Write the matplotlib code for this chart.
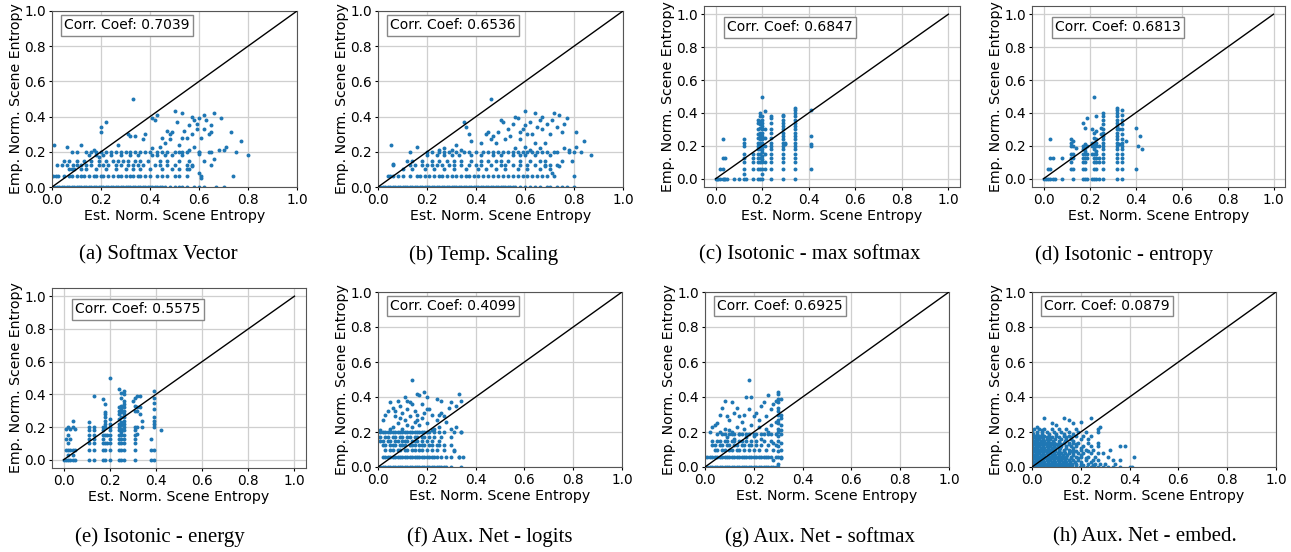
import matplotlib
matplotlib.use("Agg")
import matplotlib.pyplot as plt

# ---------------- data ----------------
CAPTIONS = ["(a) Softmax Vector", "(b) Temp. Scaling", "(c) Isotonic - max softmax",
            "(d) Isotonic - entropy", "(e) Isotonic - energy", "(f) Aux. Net - logits",
            "(g) Aux. Net - softmax", "(h) Aux. Net - embed."]
CORR = [0.7039, 0.6536, 0.6847, 0.6813, 0.5575, 0.4099, 0.6925, 0.0879]
TICKS = [0.0, 0.2, 0.4, 0.6, 0.8, 1.0]

# (a) rows: y level -> x values ; extras as (x, y)
A_LEVELS = [0.0, 0.06, 0.1, 0.125, 0.15, 0.18, 0.2]
A_ROWS = [
    [0.0, 0.01, 0.02, 0.03, 0.04, 0.05, 0.06, 0.07, 0.08, 0.09, 0.10, 0.11, 0.12, 0.13, 0.14, 0.15,
     0.16, 0.17, 0.18, 0.19, 0.20, 0.21, 0.22, 0.23, 0.24, 0.25, 0.26, 0.27, 0.28, 0.29, 0.30, 0.31,
     0.32, 0.33, 0.34, 0.35, 0.36, 0.37, 0.38, 0.39, 0.40, 0.41, 0.42, 0.43, 0.44, 0.45, 0.46, 0.48,
     0.50, 0.52, 0.53, 0.55, 0.58, 0.60, 0.62, 0.67, 0.70],
    [0.005, 0.015, 0.025, 0.05, 0.07, 0.08, 0.10, 0.12, 0.13, 0.15, 0.17, 0.18, 0.20, 0.21, 0.23,
     0.25, 0.27, 0.28, 0.30, 0.32, 0.33, 0.35, 0.36, 0.38, 0.40, 0.43, 0.45, 0.47, 0.50, 0.52, 0.55,
     0.61, 0.74],
    [0.07, 0.08, 0.09, 0.12, 0.14, 0.18, 0.22, 0.26, 0.30, 0.33, 0.36, 0.40, 0.45, 0.49, 0.52, 0.56],
    [0.02, 0.04, 0.06, 0.085, 0.10, 0.12, 0.14, 0.16, 0.19, 0.21, 0.23, 0.26, 0.28, 0.31, 0.33, 0.35,
     0.37, 0.42, 0.44, 0.47, 0.50, 0.55, 0.57, 0.65],
    [0.05, 0.07, 0.10, 0.13, 0.16, 0.19, 0.22, 0.25, 0.27, 0.29, 0.31, 0.34, 0.36, 0.39, 0.44, 0.47,
     0.52, 0.56],
    [0.15, 0.18, 0.21, 0.24, 0.28, 0.32, 0.35, 0.41, 0.43, 0.46, 0.49, 0.53],
    [0.08, 0.10, 0.14, 0.16, 0.18, 0.20, 0.22, 0.24, 0.26, 0.28, 0.30, 0.32, 0.34, 0.36, 0.38, 0.40,
     0.43, 0.45, 0.47, 0.50, 0.53, 0.60, 0.65],
]
A_EXTRA_X = [0.01, 0.06, 0.12, 0.17, 0.19, 0.20, 0.20, 0.22, 0.27, 0.31, 0.32, 0.33, 0.34, 0.37, 0.38,
             0.41, 0.42, 0.43, 0.41, 0.44, 0.45, 0.46, 0.47, 0.48, 0.49, 0.48, 0.50, 0.51, 0.52, 0.53,
             0.53, 0.54, 0.55, 0.56, 0.57, 0.57, 0.58, 0.59, 0.59, 0.60, 0.61, 0.62, 0.62, 0.63, 0.64,
             0.65, 0.66, 0.65, 0.69, 0.68, 0.71, 0.73, 0.75, 0.77, 0.80, 0.58, 0.60, 0.60, 0.64, 0.66,
             0.70, 0.62, 0.56, 0.55, 0.57, 0.61, 0.55, 0.60, 0.52]
A_EXTRA_Y = [0.24, 0.23, 0.24, 0.21, 0.17, 0.34, 0.31, 0.37, 0.24, 0.30, 0.29, 0.50, 0.29, 0.27, 0.30,
             0.39, 0.38, 0.41, 0.22, 0.23, 0.28, 0.25, 0.32, 0.30, 0.31, 0.27, 0.43, 0.37, 0.24, 0.42,
             0.28, 0.32, 0.28, 0.35, 0.30, 0.40, 0.38, 0.33, 0.36, 0.39, 0.28, 0.41, 0.33, 0.38, 0.30,
             0.35, 0.42, 0.31, 0.39, 0.21, 0.23, 0.31, 0.20, 0.26, 0.18, 0.23, 0.19, 0.20, 0.20, 0.16,
             0.21, 0.15, 0.21, 0.20, 0.12, 0.05, 0.10, 0.08, 0.20]

# (b)
B_LEVELS = [0.0, 0.06, 0.1, 0.125, 0.15, 0.18, 0.2]
B_ROWS = [
    [0.0, 0.01, 0.02, 0.03, 0.04, 0.05, 0.06, 0.07, 0.08, 0.09, 0.10, 0.11, 0.12, 0.13, 0.14, 0.15,
     0.16, 0.17, 0.18, 0.19, 0.20, 0.21, 0.22, 0.23, 0.24, 0.25, 0.26, 0.27, 0.28, 0.29, 0.30, 0.31,
     0.32, 0.33, 0.34, 0.35, 0.36, 0.37, 0.38, 0.39, 0.40, 0.41, 0.42, 0.43, 0.44, 0.45, 0.46, 0.47,
     0.48, 0.49, 0.50, 0.51, 0.52, 0.53, 0.54, 0.55, 0.56, 0.58, 0.60, 0.62, 0.64, 0.66, 0.69, 0.70,
     0.73, 0.75, 0.77, 0.80],
    [0.04, 0.05, 0.06, 0.08, 0.10, 0.13, 0.16, 0.17, 0.19, 0.21, 0.23, 0.25, 0.26, 0.28, 0.30, 0.32,
     0.34, 0.36, 0.37, 0.39, 0.41, 0.43, 0.45, 0.47, 0.49, 0.51, 0.53, 0.55, 0.57, 0.59, 0.61, 0.63,
     0.65, 0.67, 0.69, 0.72, 0.80],
    [0.10, 0.14, 0.19, 0.23, 0.27, 0.31, 0.36, 0.41, 0.44, 0.48, 0.52, 0.57, 0.61, 0.66, 0.70],
    [0.06, 0.13, 0.15, 0.18, 0.20, 0.22, 0.24, 0.26, 0.29, 0.31, 0.34, 0.37, 0.40, 0.42, 0.46, 0.50,
     0.52, 0.55, 0.58, 0.61, 0.64, 0.68, 0.70, 0.73],
    [0.12, 0.14, 0.18, 0.22, 0.25, 0.28, 0.31, 0.34, 0.38, 0.42, 0.45, 0.48, 0.50, 0.53, 0.58, 0.62,
     0.66, 0.68],
    [0.20, 0.24, 0.27, 0.30, 0.33, 0.38, 0.42, 0.47, 0.50, 0.55, 0.58, 0.60, 0.64],
    [0.13, 0.20, 0.22, 0.25, 0.27, 0.29, 0.32, 0.35, 0.37, 0.40, 0.43, 0.45, 0.47, 0.49, 0.51, 0.53,
     0.55, 0.57, 0.59, 0.61, 0.63, 0.65, 0.67, 0.69, 0.72, 0.78],
]
B_EXTRA_X = [0.055, 0.06, 0.16, 0.25, 0.27, 0.30, 0.32, 0.34, 0.35, 0.36, 0.37, 0.38, 0.42, 0.44, 0.45,
             0.46, 0.46, 0.47, 0.48, 0.49, 0.50, 0.51, 0.52, 0.53, 0.54, 0.55, 0.56, 0.56, 0.57, 0.58,
             0.58, 0.59, 0.60, 0.60, 0.61, 0.62, 0.63, 0.64, 0.64, 0.65, 0.66, 0.67, 0.67, 0.68, 0.69,
             0.70, 0.71, 0.72, 0.73, 0.74, 0.75, 0.76, 0.77, 0.73, 0.75, 0.76, 0.78, 0.80, 0.81, 0.81,
             0.84, 0.83, 0.87, 0.70, 0.74, 0.79, 0.62, 0.66, 0.60, 0.68, 0.71]
B_EXTRA_Y = [0.24, 0.13, 0.23, 0.21, 0.22, 0.21, 0.24, 0.21, 0.37, 0.34, 0.30, 0.26, 0.25, 0.30, 0.31,
             0.50, 0.27, 0.29, 0.25, 0.31, 0.38, 0.37, 0.27, 0.33, 0.29, 0.36, 0.22, 0.40, 0.39, 0.31,
             0.27, 0.33, 0.35, 0.43, 0.30, 0.37, 0.30, 0.42, 0.25, 0.34, 0.38, 0.40, 0.33, 0.25, 0.36,
             0.30, 0.38, 0.42, 0.34, 0.41, 0.31, 0.36, 0.39, 0.20, 0.15, 0.22, 0.21, 0.20, 0.31, 0.23,
             0.26, 0.20, 0.18, 0.18, 0.12, 0.15, 0.21, 0.22, 0.23, 0.12, 0.08]

# (c) columns: x position -> y values
C_COL_X = [0.12, 0.16, 0.18, 0.19, 0.20, 0.21, 0.24, 0.29, 0.30, 0.34, 0.41]
C_COL_Y = [
    [0.0, 0.03, 0.06, 0.10, 0.125, 0.15, 0.20, 0.22, 0.24],
    [0.0, 0.06, 0.10, 0.125, 0.15],
    [0.0, 0.06, 0.10, 0.125, 0.15, 0.18, 0.20, 0.22, 0.25, 0.27, 0.30, 0.34, 0.36],
    [0.0, 0.06, 0.10, 0.125, 0.15, 0.18, 0.20, 0.22, 0.24, 0.26, 0.28, 0.31, 0.33, 0.35, 0.38, 0.40],
    [0.0, 0.03, 0.06, 0.10, 0.12, 0.14, 0.16, 0.18, 0.20, 0.22, 0.24, 0.26, 0.28, 0.30, 0.32, 0.34,
     0.36, 0.38, 0.50],
    [0.06, 0.10, 0.15, 0.20, 0.25, 0.30, 0.41],
    [0.0, 0.06, 0.10, 0.125, 0.15, 0.18, 0.20, 0.22, 0.25, 0.28, 0.30, 0.34, 0.37, 0.38],
    [0.0, 0.06, 0.10, 0.125, 0.15, 0.18, 0.20, 0.22, 0.24, 0.26, 0.28, 0.30, 0.32, 0.34, 0.36, 0.38,
     0.39],
    [0.21, 0.22],
    [0.0, 0.06, 0.10, 0.125, 0.15, 0.18, 0.20, 0.22, 0.24, 0.26, 0.28, 0.30, 0.32, 0.34, 0.36, 0.38,
     0.40, 0.42, 0.43],
    [0.06, 0.20, 0.21, 0.26, 0.42],
]
C_EXTRA_X = [0.0, 0.005, 0.01, 0.02, 0.03, 0.035, 0.04, 0.05, 0.08, 0.10, 0.13, 0.02, 0.03, 0.03, 0.04,
             0.03]
C_EXTRA_Y = [0.0, 0.0, 0.0, 0.0, 0.0, 0.0, 0.0, 0.0, 0.0, 0.0, 0.0, 0.06, 0.06, 0.125, 0.125, 0.24]

# (d)
D_COL_X = [0.12, 0.13, 0.14, 0.17, 0.18, 0.19, 0.21, 0.22, 0.23, 0.24, 0.25, 0.26, 0.32, 0.33, 0.34]
D_COL_Y = [
    [0.06, 0.10, 0.125, 0.15, 0.20, 0.22, 0.24],
    [0.0, 0.06, 0.125, 0.15, 0.20, 0.23],
    [0.19],
    [0.0, 0.06, 0.10, 0.125, 0.15, 0.18, 0.20, 0.34],
    [0.0, 0.06, 0.10, 0.125, 0.15, 0.17, 0.19, 0.21, 0.31],
    [0.0, 0.125, 0.15, 0.20, 0.37],
    [0.0, 0.15, 0.20, 0.22, 0.30],
    [0.0, 0.06, 0.10, 0.125, 0.15, 0.18, 0.20, 0.22, 0.25, 0.28, 0.50],
    [0.0, 0.06, 0.10, 0.125, 0.15, 0.17, 0.20, 0.22, 0.24, 0.29, 0.38],
    [0.0, 0.10, 0.125, 0.20],
    [0.27, 0.31],
    [0.0, 0.06, 0.10, 0.125, 0.15, 0.18, 0.20, 0.22, 0.24, 0.26, 0.28, 0.30, 0.33, 0.36, 0.38, 0.40],
    [0.0, 0.06, 0.10, 0.125, 0.15, 0.18, 0.20, 0.22, 0.24, 0.26, 0.28, 0.30, 0.32, 0.34, 0.36, 0.38,
     0.40, 0.42, 0.43],
    [0.21, 0.30],
    [0.0, 0.06, 0.10, 0.125, 0.15, 0.18, 0.20, 0.22, 0.24, 0.27, 0.30, 0.33, 0.36, 0.39, 0.42],
]
D_EXTRA_X = [0.0, 0.01, 0.02, 0.03, 0.04, 0.05, 0.08, 0.02, 0.03, 0.03, 0.03, 0.04, 0.08, 0.36, 0.40,
             0.42, 0.41, 0.43, 0.40]
D_EXTRA_Y = [0.0, 0.0, 0.0, 0.0, 0.0, 0.0, 0.0, 0.06, 0.06, 0.24, 0.125, 0.125, 0.125, 0.23, 0.31,
             0.26, 0.20, 0.18, 0.06]

# (e)
E_COL_X = [0.01, 0.02, 0.03, 0.04, 0.05, 0.11, 0.13, 0.17, 0.18, 0.19, 0.20, 0.24, 0.25, 0.26, 0.30,
           0.31, 0.32, 0.33, 0.34, 0.38, 0.39]
E_COL_Y = [
    [0.0, 0.06, 0.125, 0.19],
    [0.0, 0.03, 0.06, 0.10, 0.15, 0.20],
    [0.0, 0.06, 0.125, 0.19],
    [0.0, 0.03, 0.06, 0.20, 0.24],
    [0.0, 0.06, 0.19],
    [0.0, 0.06, 0.10, 0.125, 0.15, 0.18, 0.20, 0.23],
    [0.0, 0.06, 0.10, 0.125, 0.15, 0.18, 0.20, 0.39],
    [0.0, 0.06, 0.10, 0.125, 0.15, 0.18, 0.20, 0.37],
    [0.0, 0.06, 0.10, 0.15, 0.20, 0.22, 0.24, 0.26, 0.28, 0.29, 0.34],
    [0.10, 0.15],
    [0.0, 0.06, 0.10, 0.125, 0.15, 0.18, 0.20, 0.22, 0.25, 0.50],
    [0.0, 0.06, 0.10, 0.125, 0.15, 0.18, 0.20, 0.22, 0.25, 0.28, 0.30, 0.32, 0.43],
    [0.0, 0.06, 0.10, 0.125, 0.15, 0.17, 0.19, 0.21, 0.23, 0.26, 0.29, 0.31, 0.33, 0.38, 0.41],
    [0.0, 0.06, 0.10, 0.125, 0.15, 0.18, 0.20, 0.22, 0.24, 0.26, 0.28, 0.30, 0.32, 0.34, 0.36, 0.40,
     0.42],
    [0.36],
    [0.0, 0.06, 0.10, 0.125, 0.15, 0.18, 0.20, 0.30, 0.33, 0.38],
    [0.16, 0.20, 0.30, 0.32, 0.39],
    [0.28, 0.32, 0.39],
    [0.20, 0.24],
    [0.0, 0.06, 0.125],
    [0.0, 0.06, 0.20, 0.22, 0.24, 0.26, 0.31, 0.35, 0.38, 0.42],
]
E_EXTRA_X = [0.0, 0.42]
E_EXTRA_Y = [0.0, 0.18]

# (f)
F_LEVELS = [0.0, 0.06, 0.10, 0.125, 0.15, 0.17, 0.20]
F_ROWS = [
    [0.0, 0.01, 0.02, 0.03, 0.04, 0.05, 0.06, 0.07, 0.08, 0.09, 0.10, 0.11, 0.12, 0.13, 0.14, 0.15,
     0.16, 0.17, 0.18, 0.19, 0.20, 0.21, 0.22, 0.23, 0.24, 0.25, 0.26, 0.27, 0.28, 0.30, 0.34],
    [0.02, 0.03, 0.04, 0.05, 0.06, 0.07, 0.08, 0.09, 0.10, 0.11, 0.12, 0.13, 0.14, 0.15, 0.16, 0.17,
     0.18, 0.19, 0.20, 0.21, 0.22, 0.23, 0.24, 0.26, 0.28, 0.30, 0.33, 0.35],
    [0.03, 0.05, 0.06, 0.08, 0.09, 0.11, 0.12, 0.14, 0.15, 0.17, 0.18, 0.20, 0.22, 0.24, 0.27, 0.31],
    [0.02, 0.03, 0.05, 0.06, 0.07, 0.09, 0.10, 0.11, 0.13, 0.14, 0.15, 0.17, 0.18, 0.19, 0.21, 0.22,
     0.24, 0.25, 0.27, 0.30],
    [0.01, 0.02, 0.04, 0.05, 0.07, 0.08, 0.10, 0.11, 0.12, 0.14, 0.15, 0.16, 0.18, 0.20, 0.22, 0.25],
    [0.0, 0.01, 0.03, 0.04, 0.06, 0.07, 0.09, 0.10, 0.12, 0.13, 0.15, 0.16, 0.18, 0.19, 0.21, 0.23,
     0.26, 0.30],
    [0.01, 0.02, 0.03, 0.04, 0.05, 0.06, 0.07, 0.08, 0.09, 0.10, 0.11, 0.12, 0.13, 0.14, 0.15, 0.16,
     0.17, 0.18, 0.19, 0.20, 0.21, 0.23, 0.25, 0.27, 0.31, 0.34],
]
F_EXTRA_X = [0.01, 0.02, 0.03, 0.04, 0.05, 0.06, 0.07, 0.08, 0.09, 0.10, 0.11, 0.11, 0.12, 0.12, 0.13,
             0.13, 0.14, 0.14, 0.15, 0.15, 0.16, 0.16, 0.17, 0.17, 0.18, 0.18, 0.19, 0.19, 0.20, 0.20,
             0.21, 0.22, 0.22, 0.24, 0.25, 0.26, 0.26, 0.27, 0.29, 0.30, 0.32, 0.33, 0.34, 0.32, 0.34,
             0.30, 0.28, 0.25, 0.23, 0.10, 0.08, 0.06, 0.05, 0.09, 0.14, 0.16, 0.07, 0.12, 0.20, 0.24,
             0.31, 0.33]
F_EXTRA_Y = [0.21, 0.27, 0.30, 0.32, 0.37, 0.34, 0.29, 0.38, 0.35, 0.31, 0.40, 0.27, 0.33, 0.24, 0.37,
             0.29, 0.50, 0.36, 0.26, 0.32, 0.42, 0.30, 0.41, 0.24, 0.36, 0.28, 0.43, 0.31, 0.40, 0.25,
             0.33, 0.30, 0.21, 0.39, 0.30, 0.38, 0.31, 0.29, 0.34, 0.37, 0.35, 0.42, 0.38, 0.23, 0.20,
             0.22, 0.26, 0.23, 0.22, 0.22, 0.25, 0.23, 0.22, 0.28, 0.23, 0.27, 0.32, 0.38, 0.33, 0.27,
             0.09, 0.06]

# (g)
G_LEVELS = [0.0, 0.06, 0.10, 0.125, 0.15, 0.19]
G_ROWS = [
    [0.0, 0.01, 0.02, 0.03, 0.04, 0.05, 0.06, 0.07, 0.08, 0.09, 0.10, 0.11, 0.12, 0.13, 0.14, 0.15,
     0.16, 0.17, 0.18, 0.19, 0.20, 0.21, 0.22, 0.23, 0.24, 0.25, 0.26, 0.27, 0.28, 0.29, 0.30],
    [0.0, 0.01, 0.02, 0.03, 0.04, 0.05, 0.06, 0.07, 0.08, 0.09, 0.10, 0.11, 0.12, 0.13, 0.14, 0.15,
     0.16, 0.17, 0.18, 0.19, 0.20, 0.21, 0.22, 0.23, 0.24, 0.25, 0.26, 0.27, 0.29, 0.31],
    [0.04, 0.05, 0.07, 0.08, 0.10, 0.11, 0.13, 0.14, 0.16, 0.18, 0.20, 0.22, 0.25, 0.28],
    [0.03, 0.04, 0.06, 0.07, 0.09, 0.10, 0.12, 0.13, 0.15, 0.16, 0.18, 0.19, 0.21, 0.23, 0.26, 0.29],
    [0.03, 0.05, 0.06, 0.08, 0.09, 0.11, 0.12, 0.14, 0.15, 0.17, 0.19, 0.21, 0.24, 0.27],
    [0.05, 0.07, 0.08, 0.10, 0.11, 0.12, 0.14, 0.15, 0.17, 0.18, 0.20, 0.21, 0.23, 0.24, 0.26, 0.27,
     0.29],
]
G_COL_X = [0.30, 0.31]
G_COL_Y = [
    [0.02, 0.06, 0.09, 0.12, 0.15, 0.18, 0.20, 0.22, 0.25, 0.27, 0.30, 0.32, 0.34, 0.37, 0.39, 0.42,
     0.43],
    [0.05, 0.10, 0.14, 0.19, 0.21, 0.24, 0.28, 0.30, 0.39],
]
G_EXTRA_X = [0.02, 0.03, 0.04, 0.05, 0.06, 0.07, 0.08, 0.09, 0.10, 0.11, 0.12, 0.13, 0.14, 0.15, 0.16,
             0.17, 0.18, 0.18, 0.19, 0.20, 0.21, 0.22, 0.23, 0.24, 0.25, 0.26, 0.27, 0.28, 0.29, 0.08,
             0.10, 0.13, 0.16, 0.19, 0.22, 0.25, 0.27, 0.29, 0.11, 0.14, 0.17, 0.12, 0.09, 0.06, 0.20,
             0.23, 0.26, 0.28, 0.28]
G_EXTRA_Y = [0.20, 0.23, 0.24, 0.25, 0.30, 0.34, 0.38, 0.29, 0.27, 0.37, 0.31, 0.34, 0.29, 0.26, 0.30,
             0.40, 0.50, 0.33, 0.40, 0.29, 0.31, 0.27, 0.35, 0.37, 0.29, 0.41, 0.33, 0.36, 0.38, 0.22,
             0.21, 0.23, 0.22, 0.24, 0.23, 0.22, 0.24, 0.26, 0.20, 0.19, 0.17, 0.16, 0.17, 0.20, 0.18,
             0.16, 0.20, 0.14, 0.04]

# (h) rows of a dense blob
H_LEVELS = [0.0, 0.02, 0.04, 0.06, 0.08, 0.10, 0.12, 0.14, 0.16, 0.18, 0.20, 0.22,
            0.01, 0.03, 0.05, 0.07, 0.09, 0.11, 0.13, 0.15, 0.17, 0.19]
H_ROWS = [
    [0.0, 0.015, 0.03, 0.045, 0.06, 0.075, 0.09, 0.105, 0.12, 0.135, 0.15, 0.165, 0.18, 0.195, 0.21,
     0.225, 0.24, 0.255, 0.27, 0.29, 0.31, 0.33, 0.36, 0.40, 0.41],
    [0.0, 0.015, 0.03, 0.045, 0.06, 0.075, 0.09, 0.105, 0.12, 0.135, 0.15, 0.165, 0.18, 0.20, 0.23,
     0.26, 0.28, 0.30, 0.34],
    [0.0, 0.015, 0.03, 0.045, 0.06, 0.075, 0.09, 0.105, 0.12, 0.135, 0.15, 0.17, 0.19, 0.22, 0.25,
     0.27, 0.33, 0.36],
    [0.0, 0.015, 0.03, 0.045, 0.06, 0.075, 0.09, 0.105, 0.12, 0.14, 0.16, 0.18, 0.20, 0.23, 0.26,
     0.31, 0.42],
    [0.0, 0.015, 0.03, 0.045, 0.06, 0.075, 0.09, 0.105, 0.12, 0.135, 0.15, 0.17, 0.19, 0.21, 0.24,
     0.27, 0.29],
    [0.0, 0.015, 0.03, 0.045, 0.06, 0.075, 0.09, 0.11, 0.13, 0.15, 0.17, 0.20, 0.22, 0.25, 0.32],
    [0.0, 0.015, 0.03, 0.045, 0.06, 0.075, 0.09, 0.105, 0.12, 0.14, 0.16, 0.18, 0.21, 0.24, 0.27,
     0.36, 0.38],
    [0.0, 0.015, 0.03, 0.045, 0.06, 0.075, 0.09, 0.11, 0.13, 0.15, 0.17, 0.19, 0.23, 0.27],
    [0.0, 0.015, 0.03, 0.045, 0.06, 0.075, 0.095, 0.12, 0.14, 0.16, 0.20, 0.23],
    [0.0, 0.015, 0.03, 0.05, 0.07, 0.10, 0.13, 0.15, 0.18, 0.21, 0.24],
    [0.0, 0.02, 0.04, 0.06, 0.09, 0.12, 0.15, 0.19, 0.22, 0.27],
    [0.01, 0.03, 0.05, 0.08, 0.11, 0.14, 0.18, 0.27],
    [0.0, 0.01, 0.02, 0.035, 0.05, 0.065, 0.08, 0.095, 0.11, 0.125, 0.14, 0.16, 0.18, 0.21, 0.25],
    [0.0, 0.01, 0.02, 0.035, 0.05, 0.065, 0.08, 0.095, 0.11, 0.125, 0.14, 0.155, 0.175, 0.2, 0.24],
    [0.0, 0.01, 0.02, 0.035, 0.05, 0.065, 0.08, 0.095, 0.11, 0.125, 0.14, 0.16, 0.19, 0.22],
    [0.0, 0.01, 0.02, 0.035, 0.05, 0.065, 0.08, 0.095, 0.11, 0.125, 0.145, 0.17, 0.2],
    [0.0, 0.01, 0.02, 0.035, 0.05, 0.065, 0.08, 0.095, 0.11, 0.13, 0.155, 0.18, 0.23],
    [0.0, 0.01, 0.02, 0.035, 0.05, 0.065, 0.08, 0.095, 0.115, 0.14, 0.17, 0.2],
    [0.0, 0.01, 0.02, 0.035, 0.05, 0.065, 0.08, 0.1, 0.12, 0.15, 0.18],
    [0.0, 0.01, 0.02, 0.035, 0.05, 0.065, 0.085, 0.11, 0.135, 0.17],
    [0.0, 0.01, 0.025, 0.04, 0.06, 0.08, 0.11, 0.14, 0.16],
    [0.005, 0.02, 0.04, 0.07, 0.1, 0.13, 0.17],
]
H_EXTRA_X = [0.05, 0.13, 0.15, 0.20, 0.24, 0.08, 0.10, 0.17, 0.02, 0.04, 0.28]
H_EXTRA_Y = [0.28, 0.28, 0.27, 0.26, 0.28, 0.25, 0.24, 0.25, 0.23, 0.21, 0.23]


def from_rows(levels, rows):
    xs, ys = [], []
    for lv, row in zip(levels, rows):
        xs += list(row)
        ys += [lv] * len(row)
    return xs, ys


def from_cols(cols_x, cols_y):
    xs, ys = [], []
    for cx, col in zip(cols_x, cols_y):
        xs += [cx] * len(col)
        ys += list(col)
    return xs, ys


def combine(*parts):
    xs, ys = [], []
    for px, py in parts:
        xs += list(px)
        ys += list(py)
    return xs, ys


PANELS = [
    combine(from_rows(A_LEVELS, A_ROWS), (A_EXTRA_X, A_EXTRA_Y)),
    combine(from_rows(B_LEVELS, B_ROWS), (B_EXTRA_X, B_EXTRA_Y)),
    combine(from_cols(C_COL_X, C_COL_Y), (C_EXTRA_X, C_EXTRA_Y)),
    combine(from_cols(D_COL_X, D_COL_Y), (D_EXTRA_X, D_EXTRA_Y)),
    combine(from_cols(E_COL_X, E_COL_Y), (E_EXTRA_X, E_EXTRA_Y)),
    combine(from_rows(F_LEVELS, F_ROWS), (F_EXTRA_X, F_EXTRA_Y)),
    combine(from_rows(G_LEVELS, G_ROWS), from_cols(G_COL_X, G_COL_Y), (G_EXTRA_X, G_EXTRA_Y)),
    combine(from_rows(H_LEVELS, H_ROWS), (H_EXTRA_X, H_EXTRA_Y)),
]

# ---------------- layout ----------------
W, H = 1291, 552
fig = plt.figure(figsize=(W / 100, H / 100), dpi=100)

# axes rectangles in pixels: left, top, right, bottom
RECTS = [
    (52, 11, 297, 187), (378, 11, 623, 187), (704, 6, 960, 187), (1032, 6, 1285, 187),
    (52, 288, 306, 468), (378, 292, 622, 467), (705, 292, 949, 467), (1032, 292, 1276, 467),
]
PADDED = [False, False, True, True, True, False, False, False]
CAP_POS = [(158, 255), (484, 255), (810, 255), (1124, 255),
           (160, 537), (490, 537), (820, 537), (1145, 537)]

for i, (l, t, r, b) in enumerate(RECTS):
    ax = fig.add_axes([l / W, 1 - b / H, (r - l) / W, (b - t) / H])
    xs, ys = PANELS[i]
    ax.grid(True, color='#cfcfcf', linewidth=0.9, zorder=0)
    ax.set_axisbelow(True)
    ax.scatter(xs, ys, s=8, color='#1f77b4', zorder=2, linewidths=0)
    ax.plot([0, 1], [0, 1], color='black', linewidth=1.0, zorder=3)
    if PADDED[i]:
        ax.set_xlim(-0.05, 1.05)
        ax.set_ylim(-0.05, 1.05)
    else:
        ax.set_xlim(0, 1)
        ax.set_ylim(0, 1)
    ax.set_xticks(TICKS)
    ax.set_yticks(TICKS)
    ax.tick_params(labelsize=9.8, length=2.5, width=0.8, pad=2)
    ax.set_xlabel("Est. Norm. Scene Entropy", fontsize=10.2, labelpad=1)
    ax.set_ylabel("Emp. Norm. Scene Entropy", fontsize=10.2, labelpad=1)
    for sp in ax.spines.values():
        sp.set_color('#555555')
    ax.text(0.05, 0.92, f"Corr. Coef: {CORR[i]:.4f}", fontsize=10, va='center', ha='left',
            bbox=dict(boxstyle='square,pad=0.25', facecolor='white', edgecolor='#888888',
                      linewidth=1.0), zorder=5)
    cx, cy = CAP_POS[i]
    fig.text(cx / W, 1 - cy / H, CAPTIONS[i], ha='center', va='center', fontsize=15,
             family='Liberation Serif')

fig.savefig("out.png", dpi=100)
